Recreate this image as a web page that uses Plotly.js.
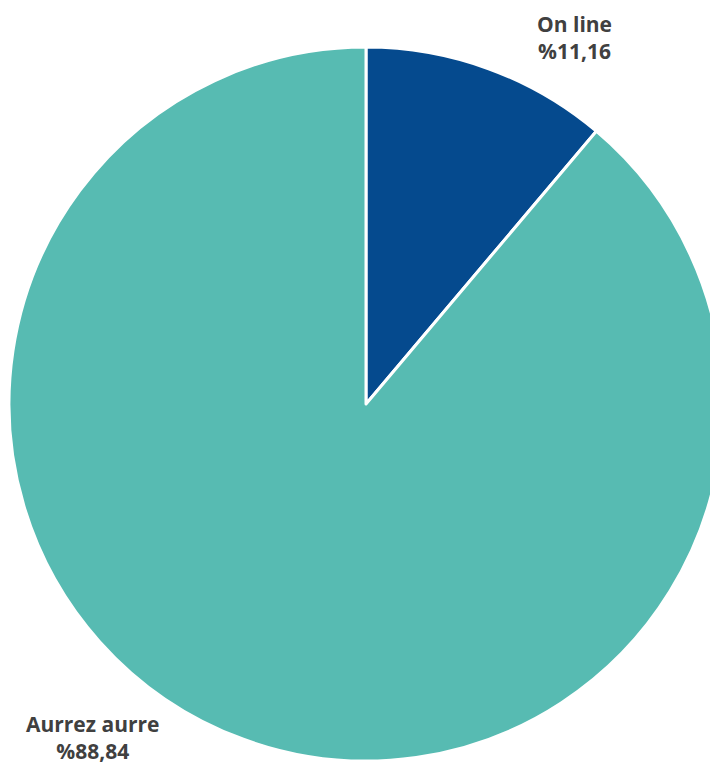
<!DOCTYPE html>
<html>
<head>
<meta charset="utf-8">
<script src="https://cdn.plot.ly/plotly-3.0.1.min.js"></script>
<style>
html, body { margin: 0; padding: 0; overflow: hidden; background: #fff; }
#chart { width: 730px; height: 767px; }
</style>
</head>
<body>
<div id="chart"></div>
<script>
const categories = ['On line', 'Aurrez aurre'];
const values = [11.16, 88.84];
const colors = ['#054A8E', '#57BBB2'];

function pctLabel(v) { return '%' + v.toFixed(2).replace('.', ','); }

const W = 730, H = 767;
const cx = 366, cy = 404, r = 357;

const trace = {
  type: 'pie',
  labels: categories,
  values: values,
  sort: false,
  direction: 'clockwise',
  rotation: 0,
  textinfo: 'none',
  hoverinfo: 'label+percent',
  marker: { colors: colors, line: { color: '#ffffff', width: 3 } },
  domain: {
    x: [(cx - r) / W, (cx + r) / W],
    y: [1 - (cy + r) / H, 1 - (cy - r) / H]
  },
  showlegend: false
};

const labelPos = [[574, 37], [92, 737]];
const font = { family: '"Open Sans", Lato, sans-serif', size: 21, color: '#404040' };
const annotations = categories.map((c, i) => ({
  x: labelPos[i][0] / W,
  y: 1 - labelPos[i][1] / H,
  xref: 'paper', yref: 'paper',
  xanchor: 'center', yanchor: 'middle',
  showarrow: false,
  align: 'center',
  text: '<b>' + c + '</b><br><b>' + pctLabel(values[i]) + '</b>',
  font: font
}));

Plotly.newPlot('chart', [trace], {
  width: W, height: H,
  margin: { l: 0, r: 0, t: 0, b: 0 },
  paper_bgcolor: '#ffffff',
  annotations: annotations
}, { staticPlot: true });
</script>
</body>
</html>
